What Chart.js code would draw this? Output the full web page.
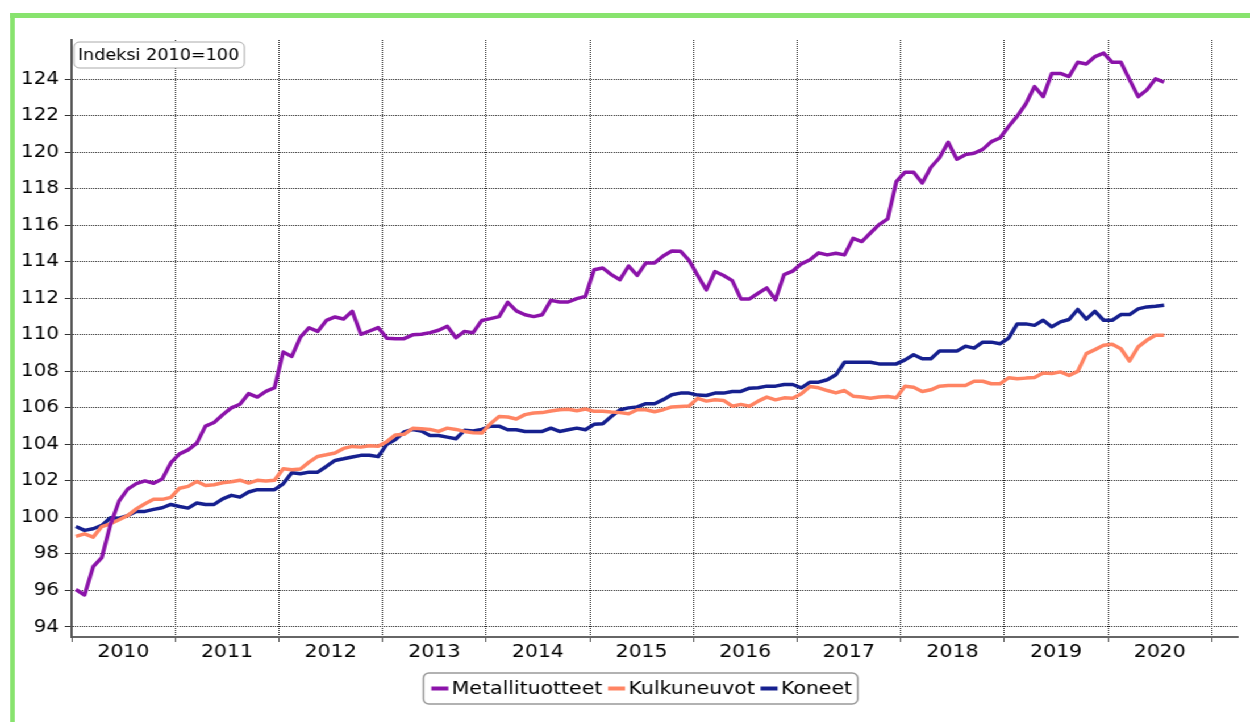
<!DOCTYPE html>
<html>
<head>
<meta charset="utf-8">
<title>Metallituotteet, kulkuneuvot, koneet</title>
<script src="https://cdn.jsdelivr.net/npm/chart.js@4.4.1/dist/chart.umd.min.js"></script>
<style>
    html, body { margin: 0; padding: 0; background: #fff; overflow: hidden; }
    /* the original picture is a 1100px wide chart shown stretched to 1250px */
    #stretch { position: absolute; left: 0; top: 0; width: 1100px; height: 722px; transform: scaleX(1.13636); transform-origin: 0 0; }
    #frame { position: absolute; left: 9px; top: 13px; width: 1200px; height: 800px; border-top: 5px solid #88e36e; border-left: 4px solid #88e36e; }
    #box { position: absolute; left: 0; top: 0; width: 1087px; height: 704px; }
</style>
</head>
<body>
<div id="stretch">
    <div id="frame">
        <div id="box"><canvas id="myChart"></canvas></div>
    </div>
</div>
<script>
(function () {
    "use strict";

    // monthly index values, Jan 2010 - Jul 2020
    const metallituotteet = [
        96.05, 95.75, 97.3, 97.8, 99.6, 100.9, 101.55, 101.85, 102.0, 101.87, 102.1, 103.0,
        103.48, 103.7, 104.07, 105.0, 105.2, 105.62, 106.0, 106.2, 106.78, 106.59, 106.9, 107.1,
        109.06, 108.82, 109.88, 110.39, 110.19, 110.79, 110.98, 110.87, 111.29, 110.03, 110.21, 110.4,
        109.82, 109.79, 109.79, 110.0, 110.03, 110.12, 110.25, 110.47, 109.84, 110.19, 110.12, 110.79,
        110.89, 111.0, 111.78, 111.31, 111.1, 111.0, 111.1, 111.89, 111.8, 111.8, 111.98, 112.11,
        113.57, 113.66, 113.3, 113.02, 113.77, 113.26, 113.94, 113.94, 114.32, 114.59, 114.58, 114.08,
        113.25, 112.46, 113.47, 113.25, 112.97, 111.97, 111.97, 112.28, 112.57, 111.92, 113.3, 113.49,
        113.89, 114.11, 114.49, 114.38, 114.47, 114.38, 115.29, 115.11, 115.58, 116.04, 116.35, 118.39,
        118.91, 118.91, 118.32, 119.18, 119.7, 120.55, 119.62, 119.87, 119.95, 120.16, 120.58, 120.78,
        121.41, 121.98, 122.66, 123.6, 123.05, 124.32, 124.32, 124.15, 124.93, 124.84, 125.24, 125.43,
        124.93, 124.93, 123.98, 123.05, 123.41, 124.02, 123.84
    ];
    const kulkuneuvot = [
        98.96, 99.1, 98.92, 99.5, 99.65, 99.87, 100.1, 100.47, 100.75, 100.99, 100.99, 101.1,
        101.6, 101.7, 101.97, 101.75, 101.79, 101.9, 101.95, 102.04, 101.88, 102.03, 101.99, 102.04,
        102.67, 102.61, 102.65, 103.03, 103.34, 103.43, 103.53, 103.78, 103.89, 103.85, 103.93, 103.9,
        104.15, 104.52, 104.55, 104.88, 104.86, 104.82, 104.71, 104.89, 104.82, 104.71, 104.64, 104.62,
        105.13, 105.53, 105.5, 105.39, 105.63, 105.72, 105.74, 105.83, 105.9, 105.92, 105.84, 105.94,
        105.81, 105.81, 105.77, 105.74, 105.68, 105.9, 105.9, 105.79, 105.9, 106.05, 106.08, 106.1,
        106.52, 106.37, 106.44, 106.41, 106.09, 106.19, 106.09, 106.37, 106.59, 106.44, 106.55, 106.53,
        106.77, 107.17, 107.1, 106.95, 106.82, 106.95, 106.64, 106.59, 106.53, 106.59, 106.62, 106.55,
        107.19, 107.13, 106.9, 106.99, 107.19, 107.23, 107.23, 107.23, 107.46, 107.46, 107.32, 107.32,
        107.65, 107.59, 107.63, 107.66, 107.91, 107.88, 107.97, 107.78, 108.0, 108.97, 109.19, 109.43,
        109.48, 109.24, 108.57, 109.34, 109.7, 109.98, 109.98
    ];
    const koneet = [
        99.5, 99.29, 99.38, 99.56, 99.98, 99.96, 100.1, 100.33, 100.33, 100.44, 100.53, 100.71,
        100.6, 100.51, 100.79, 100.71, 100.71, 101.02, 101.21, 101.11, 101.39, 101.52, 101.52, 101.52,
        101.84, 102.45, 102.39, 102.48, 102.48, 102.79, 103.12, 103.21, 103.31, 103.4, 103.4, 103.33,
        104.0, 104.27, 104.68, 104.82, 104.73, 104.49, 104.49, 104.4, 104.31, 104.77, 104.73, 104.82,
        105.0, 105.0, 104.8, 104.8, 104.71, 104.71, 104.71, 104.89, 104.71, 104.8, 104.89, 104.8,
        105.1, 105.13, 105.53, 105.9, 106.0, 106.05, 106.23, 106.23, 106.45, 106.72, 106.81, 106.81,
        106.7, 106.68, 106.81, 106.81, 106.9, 106.9, 107.08, 107.1, 107.19, 107.19, 107.28, 107.28,
        107.1, 107.41, 107.41, 107.54, 107.81, 108.5, 108.5, 108.5, 108.5, 108.41, 108.41, 108.41,
        108.63, 108.91, 108.69, 108.69, 109.11, 109.11, 109.11, 109.38, 109.27, 109.6, 109.6, 109.51,
        109.82, 110.6, 110.6, 110.52, 110.8, 110.44, 110.71, 110.84, 111.39, 110.86, 111.29, 110.8,
        110.8, 111.11, 111.11, 111.42, 111.53, 111.57, 111.62
    ];

    const years = ['2010', '2011', '2012', '2013', '2014', '2015', '2016', '2017', '2018', '2019', '2020'];
    const yTicks = [94, 96, 98, 100, 102, 104, 106, 108, 110, 112, 114, 116, 118, 120, 122, 124];
    const indexLabel = 'Indeksi 2010=100';

    const FONT = '"DejaVu Sans", Verdana, sans-serif';

    // month number -> point in the middle of that month
    function toPoints(values) {
        return values.map((v, i) => ({ x: i + 0.5, y: v }));
    }

    function roundRect(ctx, x, y, w, h, r) {
        ctx.beginPath();
        ctx.moveTo(x + r, y);
        ctx.arcTo(x + w, y, x + w, y + h, r);
        ctx.arcTo(x + w, y + h, x, y + h, r);
        ctx.arcTo(x, y + h, x, y, r);
        ctx.arcTo(x, y, x + w, y, r);
        ctx.closePath();
    }

    // index note in the corner and the framed legend under the axis
    const boxesPlugin = {
        id: 'boxes',
        afterDraw(chart) {
            const ctx = chart.ctx;
            const area = chart.chartArea;
            ctx.save();

            ctx.font = '15.5px ' + FONT;
            const tw = ctx.measureText(indexLabel).width;
            roundRect(ctx, area.left + 2, area.top + 2, tw + 8, 26, 5);
            ctx.fillStyle = '#fff';
            ctx.fill();
            ctx.strokeStyle = '#aaa';
            ctx.lineWidth = 1;
            ctx.stroke();
            ctx.fillStyle = '#000';
            ctx.textBaseline = 'middle';
            ctx.fillText(indexLabel, area.left + 5.5, area.top + 16);

            ctx.font = '18px ' + FONT;
            const sets = chart.data.datasets;
            const widths = sets.map(ds => ctx.measureText(ds.label).width);
            let total = widths.reduce((a, b) => a + b, 0) + sets.length * 18 + (sets.length - 1) * 5;
            const boxW = total + 12;
            const boxLeft = 550.7 - boxW / 2;
            const boxTop = 655;
            roundRect(ctx, boxLeft, boxTop, boxW, 31, 5);
            ctx.fillStyle = '#fff';
            ctx.fill();
            ctx.strokeStyle = '#999';
            ctx.lineWidth = 1.5;
            ctx.stroke();

            let x = boxLeft + 7;
            const cy = boxTop + 15.5;
            sets.forEach((ds, i) => {
                ctx.strokeStyle = ds.borderColor;
                ctx.lineWidth = 4;
                ctx.beginPath();
                ctx.moveTo(x, cy);
                ctx.lineTo(x + 15, cy);
                ctx.stroke();
                ctx.fillStyle = '#000';
                ctx.fillText(ds.label, x + 18, cy + 1);
                x += 18 + widths[i] + 5;
            });
            ctx.restore();
        }
    };

    function initChart() {
        Chart.defaults.font.family = FONT;
        Chart.defaults.color = '#000';

        const ctx = document.getElementById('myChart').getContext('2d');
        new Chart(ctx, {
            type: 'line',
            data: {
                datasets: [
                    { label: 'Metallituotteet', data: toPoints(metallituotteet), borderColor: '#8b13a9' },
                    { label: 'Kulkuneuvot', data: toPoints(kulkuneuvot), borderColor: '#ff8463' },
                    { label: 'Koneet', data: toPoints(koneet), borderColor: '#16208f' }
                ]
            },
            options: {
                responsive: true,
                maintainAspectRatio: false,
                animation: false,
                devicePixelRatio: 1,
                layout: { padding: { top: 22, right: 11, bottom: 55, left: 0 } },
                elements: {
                    line: { borderWidth: 3.5, tension: 0, borderJoinStyle: 'round', fill: false },
                    point: { radius: 0, hoverRadius: 0 }
                },
                plugins: {
                    legend: { display: false },
                    tooltip: { enabled: false }
                },
                scales: {
                    x: {
                        type: 'linear',
                        min: 0,
                        max: 135,
                        afterBuildTicks: (scale) => {
                            const t = [];
                            for (let i = 0; i <= years.length; i++) {
                                t.push({ value: i * 12 });
                                if (i < years.length) t.push({ value: i * 12 + 6 });
                            }
                            scale.ticks = t;
                        },
                        afterFit: (scale) => { scale.height = 30; },
                        ticks: {
                            autoSkip: false,
                            maxRotation: 0,
                            minRotation: 0,
                            padding: 0,
                            font: { size: 18 },
                            callback: (value) => value % 12 === 6 ? years[(value - 6) / 12] : ''
                        },
                        grid: {
                            color: (c) => c.tick && c.tick.value % 12 === 0 ? '#222' : 'rgba(0,0,0,0)',
                            tickColor: (c) => c.tick && c.tick.value % 12 === 0 ? '#555' : 'rgba(0,0,0,0)',
                            lineWidth: 1,
                            tickLength: 5
                        },
                        border: { color: '#666', width: 2, dash: [1, 1] }
                    },
                    y: {
                        min: 93.45,
                        max: 126.15,
                        afterBuildTicks: (scale) => {
                            scale.ticks = yTicks.map(v => ({ value: v }));
                        },
                        afterFit: (scale) => { scale.width = 50; },
                        ticks: { padding: 5, font: { size: 17.5 } },
                        grid: { color: '#222', lineWidth: 1, tickLength: 6, tickColor: '#333' },
                        border: { color: '#555', width: 2, dash: [1, 1] }
                    }
                }
            },
            plugins: [boxesPlugin]
        });
    }

    document.addEventListener('DOMContentLoaded', initChart);
})();
</script>
</body>
</html>
